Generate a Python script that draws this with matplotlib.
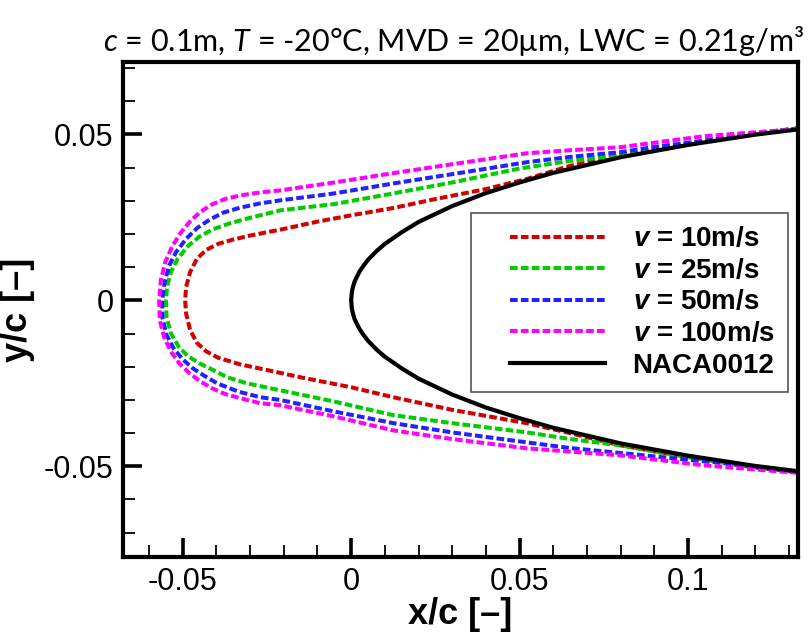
import matplotlib
matplotlib.use("Agg")
import matplotlib.pyplot as plt
from matplotlib.ticker import MultipleLocator, FuncFormatter
from matplotlib.patches import Rectangle

plt.rcParams['font.family'] = ['Liberation Sans', 'DejaVu Sans']
plt.rcParams['axes.unicode_minus'] = False
plt.rcParams['mathtext.fontset'] = 'custom'
plt.rcParams['mathtext.rm'] = 'Lato'
plt.rcParams['mathtext.it'] = 'Lato:italic'
plt.rcParams['mathtext.bfit'] = 'Liberation Sans:italic:bold'

title = r'$c$ = 0.1m, $T$ = -20°C, MVD = 20µm, LWC = 0.21g/m³'
labels = [r'$\mathbfit{v}$ = 10m/s', r'$\mathbfit{v}$ = 25m/s',
          r'$\mathbfit{v}$ = 50m/s', r'$\mathbfit{v}$ = 100m/s', 'NACA0012']
colors = ['#d40000', '#00cc00', '#2222ff', '#ff00ff']

# ice shapes, upper trailing side -> leading edge -> lower trailing side
x_v10 = [0.133, 0.12, 0.10, 0.08, 0.065, 0.052, 0.040, 0.025, 0.0125, 0.000,
         -0.010, -0.020, -0.030, -0.035, -0.0395, -0.0430, -0.0458, -0.0478, -0.0490, -0.0493,
         -0.0490, -0.0478, -0.0458, -0.0430, -0.0395, -0.033, -0.025, -0.015,
         0.000, 0.0125, 0.030, 0.052, 0.065, 0.08, 0.10, 0.12, 0.133]
y_v10 = [0.0518, 0.0503, 0.0473, 0.0437, 0.0405, 0.0365, 0.0335, 0.0305, 0.0278, 0.0256,
         0.0237, 0.0215, 0.0195, 0.0183, 0.0170, 0.0152, 0.0125, 0.0085, 0.0040, 0.0,
         -0.0040, -0.0090, -0.0128, -0.0154, -0.0173, -0.0193, -0.0210, -0.0232,
         -0.0262, -0.0292, -0.0330, -0.0370, -0.0400, -0.0437, -0.0473, -0.0503, -0.0518]

x_v25 = [0.133, 0.12, 0.10, 0.083, 0.065, 0.050, 0.030, 0.0125, -0.005, -0.021,
         -0.027, -0.031, -0.036, -0.041, -0.045, -0.0485, -0.0515, -0.0535, -0.0546, -0.0550,
         -0.0548, -0.0535, -0.0512, -0.0485, -0.0450, -0.0410, -0.0368, -0.031, -0.0211, -0.005,
         0.0125, 0.030, 0.0522, 0.065, 0.080, 0.10, 0.12, 0.133]
y_v25 = [0.0518, 0.0503, 0.0473, 0.0440, 0.0420, 0.0397, 0.0355, 0.0322, 0.0290, 0.0271,
         0.0256, 0.0246, 0.0232, 0.0214, 0.0192, 0.0163, 0.0125, 0.0085, 0.0043, 0.0,
         -0.0050, -0.0100, -0.0140, -0.0168, -0.0190, -0.0210, -0.0232, -0.0250, -0.0271, -0.0305,
         -0.0346, -0.0370, -0.0398, -0.0418, -0.0437, -0.0473, -0.0503, -0.0518]

x_v50 = [0.133, 0.12, 0.1045, 0.090, 0.0798, 0.065, 0.0522, 0.030, 0.0125, -0.005,
         -0.0211, -0.027, -0.033, -0.038, -0.042, -0.0457, -0.0490, -0.0520, -0.0540, -0.0553, -0.0561,
         -0.0560, -0.0548, -0.0527, -0.0500, -0.0470, -0.0435, -0.0398, -0.0335, -0.027, -0.0211, -0.005,
         0.0125, 0.030, 0.0522, 0.065, 0.080, 0.0976, 0.11, 0.12, 0.133]
y_v50 = [0.0518, 0.0503, 0.0480, 0.0462, 0.0446, 0.0432, 0.0416, 0.0380, 0.0352, 0.0322,
         0.0301, 0.0292, 0.0279, 0.0264, 0.0243, 0.0218, 0.0185, 0.0145, 0.0105, 0.0058, 0.0,
         -0.0055, -0.0105, -0.0145, -0.0178, -0.0205, -0.0228, -0.0250, -0.0275, -0.0292, -0.0300, -0.0335,
         -0.0370, -0.0398, -0.0428, -0.0445, -0.0460, -0.0478, -0.0490, -0.0503, -0.0518]

x_v100 = [0.133, 0.1303, 0.1045, 0.0798, 0.065, 0.0522, 0.030, 0.0125, -0.005, -0.0211,
          -0.027, -0.0329, -0.0375, -0.0415, -0.0448, -0.0478, -0.0505, -0.0530, -0.0552, -0.0565, -0.0570,
          -0.0568, -0.0555, -0.0535, -0.0510, -0.0482, -0.0450, -0.0415, -0.0375, -0.0329, -0.027, -0.0211, -0.005,
          0.0125, 0.030, 0.0522, 0.0798, 0.1045, 0.1303, 0.133]
y_v100 = [0.0518, 0.0514, 0.0494, 0.0461, 0.0452, 0.0443, 0.0410, 0.0383, 0.0355, 0.0331,
          0.0325, 0.0316, 0.0305, 0.0288, 0.0266, 0.0238, 0.0205, 0.0165, 0.0115, 0.0060, 0.0,
          -0.0060, -0.0112, -0.0155, -0.0190, -0.0218, -0.0243, -0.0264, -0.0282, -0.0295, -0.0310, -0.0316, -0.0350,
          -0.0392, -0.0418, -0.0446, -0.0467, -0.0497, -0.0518, -0.0520]

# clean airfoil
x_naca = [0.14, 0.12, 0.10, 0.08, 0.06, 0.05, 0.04, 0.03, 0.02, 0.015, 0.01, 0.0075, 0.005,
          0.0035, 0.0025, 0.0015, 0.001, 0.0005, 0.0002, 0.0,
          0.0002, 0.0005, 0.001, 0.0015, 0.0025, 0.0035, 0.005, 0.0075, 0.01, 0.015, 0.02,
          0.03, 0.04, 0.05, 0.06, 0.08, 0.10, 0.12, 0.14]
y_naca = [0.0524, 0.0499, 0.0468, 0.0431, 0.0384, 0.0355, 0.0323, 0.0284, 0.0236, 0.0205,
          0.0170, 0.0148, 0.0122, 0.0102, 0.0087, 0.0067, 0.0056, 0.0039, 0.0025, 0.0,
          -0.0025, -0.0039, -0.0056, -0.0067, -0.0087, -0.0102, -0.0122, -0.0148, -0.0170,
          -0.0205, -0.0236, -0.0284, -0.0323, -0.0355, -0.0384, -0.0431, -0.0468, -0.0499, -0.0524]

fig = plt.figure(figsize=(8.1, 6.42), dpi=100)
ax = fig.add_axes([0.152, 0.132, 0.833, 0.771])

ice = [(x_v10, y_v10), (x_v25, y_v25), (x_v50, y_v50), (x_v100, y_v100)]
for (xs, ys), c, lab in zip(ice, colors, labels[:4]):
    ax.plot(xs, ys, color=c, lw=2.9, dashes=(1.9, 0.8), label=lab, zorder=2,
            solid_joinstyle='round')
ax.plot(x_naca, y_naca, color='black', lw=3.0, label=labels[4], zorder=3,
        solid_joinstyle='round')

ax.set_xlim(-0.0677, 0.1326)
ax.set_ylim(-0.0774, 0.0717)
ax.xaxis.set_major_locator(MultipleLocator(0.05))
ax.xaxis.set_minor_locator(MultipleLocator(0.01))
ax.yaxis.set_major_locator(MultipleLocator(0.05))
ax.yaxis.set_minor_locator(MultipleLocator(0.01))
fmt = FuncFormatter(lambda v, p: '0' if abs(v) < 1e-9 else '%g' % round(v, 4))
ax.xaxis.set_major_formatter(fmt)
ax.yaxis.set_major_formatter(fmt)
ax.tick_params(which='both', direction='in', top=False, right=False, labelsize=22)
ax.tick_params(which='major', length=14, width=2.6, pad=7)
ax.tick_params(which='minor', length=8.5, width=1.3)
for s in ax.spines.values():
    s.set_linewidth(3)

ax.set_xlabel('x/c [–]', fontsize=26, fontweight='bold', labelpad=0)
ax.set_ylabel('y/c [–]', fontsize=26, fontweight='bold', labelpad=6)
ax.set_title(title, fontsize=22, pad=8, x=0.49, family=['Lato', 'DejaVu Sans'])

leg = ax.legend(loc='upper right', bbox_to_anchor=(0.982, 0.691),
                prop={'weight': 'bold', 'size': 20}, frameon=False,
                handlelength=3.4, handletextpad=1.0, labelspacing=0.2,
                borderpad=0.4, borderaxespad=0)
leg.set_zorder(6)

# legend box with extra room on the left, like the original
fig.canvas.draw()
bb = leg.get_window_extent()
box = Rectangle((bb.x0 - 28, bb.y0 - 2), bb.width + 30, bb.height + 4,
                transform=None, facecolor='white', edgecolor='#555555',
                lw=1.2, zorder=5)
ax.add_patch(box)

fig.savefig('out.png', dpi=100)
